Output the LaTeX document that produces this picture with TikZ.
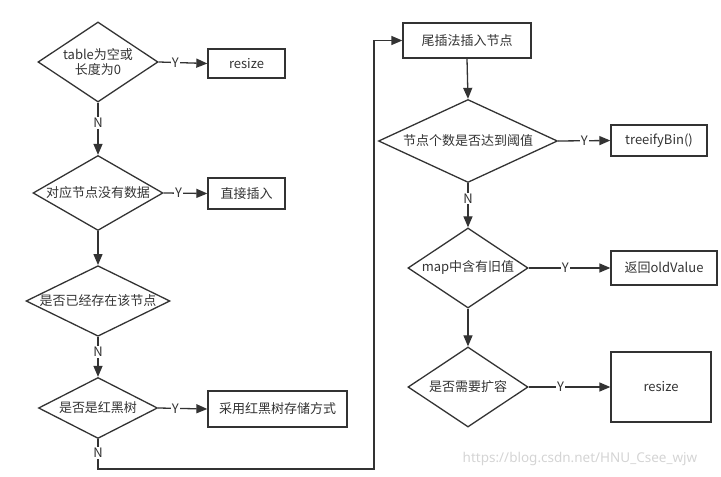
\documentclass[tikz,border=0pt]{standalone}
\usepackage{fontspec}
\setmainfont{Noto Sans CJK SC}
\newfontfamily\markfont{Noto Sans}
\usetikzlibrary{shapes.geometric,arrows.meta}
\definecolor{ink}{HTML}{333333}
\definecolor{mark}{HTML}{D4D4D4}

\begin{document}
\begin{tikzpicture}[x=1pt,y=1pt,font=\fontsize{13}{15}\selectfont,text=ink,
  decision/.style={diamond,draw=ink,line width=1.3pt,aspect=2,inner sep=0pt},
  action/.style={rectangle,draw=ink,line width=1.3pt,inner sep=0pt},
  flow/.style={draw=ink,line width=1.3pt,-{Triangle[length=11pt,width=9pt]}},
  lbl/.style={fill=white,inner sep=1pt}]
\useasboundingbox (0,0) rectangle (721,477);
% left column
\node[decision,aspect=1.5,minimum width=120,minimum height=80,align=center] (empty) at (98,415) {table为空或\\长度为0};
\node[action,minimum width=77,minimum height=29] (resizeA) at (246.5,413.5) {resize};
\node[decision,minimum width=130,minimum height=75] (nodata) at (98,284) {对应节点没有数据};
\node[action,minimum width=77,minimum height=31] (direct) at (246.5,283.5) {直接插入};
\node[decision,minimum width=144,minimum height=69] (exists) at (98,176) {是否已经存在该节点};
\node[decision,minimum width=119,minimum height=61] (rbtree) at (98,69) {是否是红黑树};
\node[action,minimum width=139,minimum height=36] (rbstore) at (277.5,68) {采用红黑树存储方式};
\coordinate (turn) at (374,8);
% right column
\node[action,minimum width=128,minimum height=35] (tail) at (467,436.5) {尾插法插入节点};
\node[decision,minimum width=179,minimum height=83] (limit) at (468,336) {节点个数是否达到阈值};
\node[action,minimum width=96,minimum height=31] (treeify) at (659,336.5) {treeifyBin()};
\node[decision,aspect=1.5,minimum width=120,minimum height=80] (oldval) at (468,209) {map中含有旧值};
\node[action,minimum width=106,minimum height=34] (retold) at (664,209) {返回oldValue};
\node[decision,minimum width=120,minimum height=80] (grow) at (468,90) {是否需要扩容};
\node[action,minimum width=100,minimum height=70] (resizeB) at (661,90) {resize};
% connectors
\draw[flow] (empty.east) -- node[lbl,pos=0.34]{Y} (resizeA.west);
\draw[flow] (empty.south) -- node[lbl,pos=0.39]{N} (nodata.north);
\draw[flow] (nodata.east) -- node[lbl,pos=0.34]{Y} (direct.west);
\draw[flow] (nodata.south) -- (exists.north);
\draw[flow] (exists.south) -- node[lbl,pos=0.38]{N} (rbtree.north);
\draw[flow] (rbtree.east) -- node[lbl,pos=0.35]{Y} (rbstore.west);
\draw[flow] (rbtree.south) |- node[lbl,pos=0.23]{N} (turn) |- (tail.west);
\draw[flow] (tail.south) -- (limit.north);
\draw[flow] (limit.east) -- node[lbl,pos=0.5]{Y} (treeify.west);
\draw[flow] (limit.south) -- node[lbl,pos=0.35]{N} (oldval.north);
\draw[flow] (oldval.east) -- node[lbl,pos=0.45]{Y} (retold.west);
\draw[flow] (oldval.south) -- (grow.north);
\draw[flow] (grow.east) -- node[lbl,pos=0.39]{Y} (resizeB.west);
% watermark
\node[text=mark,font=\markfont\fontsize{13.5}{15}\selectfont] (wm) at (580,18) {https://blog.csdn.net/HNU\_Csee\_wjw};
\end{tikzpicture}
\end{document}
